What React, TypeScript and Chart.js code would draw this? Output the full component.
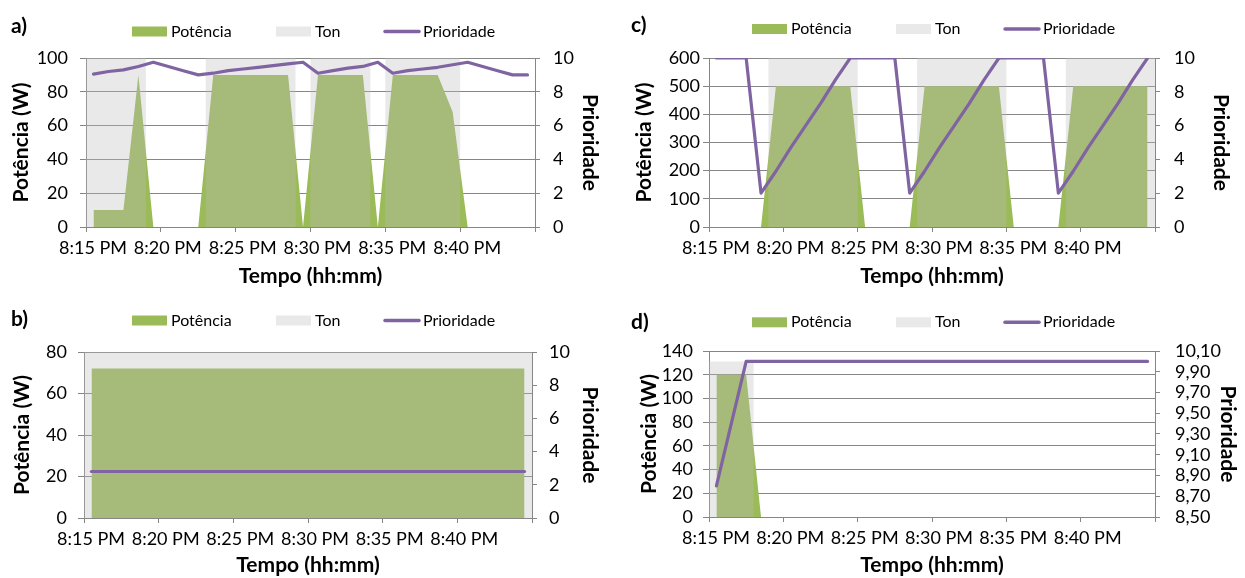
import React, { useEffect, useRef } from 'react';
import { Chart, registerables } from 'chart.js';

Chart.register(...registerables);

// ---------- data ----------
const timeTickLabels = ['8:15 PM', '8:20 PM', '8:25 PM', '8:30 PM', '8:35 PM', '8:40 PM'];
const timeTicks = [0, 5, 10, 15, 20, 25, 30]; // minutes after 8:15 PM
// sample instants (minutes after 8:15 PM), one per 1-minute interval
const sampleMinutes = [0.5, 1.5, 2.5, 3.5, 4.5, 5.5, 6.5, 7.5, 8.5, 9.5, 10.5, 11.5, 12.5, 13.5, 14.5, 15.5, 16.5, 17.5, 18.5, 19.5, 20.5, 21.5, 22.5, 23.5, 24.5, 25.5, 26.5, 27.5, 28.5, 29.5];
const intervalStarts = [0, 1, 2, 3, 4, 5, 6, 7, 8, 9, 10, 11, 12, 13, 14, 15, 16, 17, 18, 19, 20, 21, 22, 23, 24, 25, 26, 27, 28, 29];
const seriesEnd = 30;

const potenciaA = [10, 10, 10, 90, 0, 0, 0, 0, 90, 90, 90, 90, 90, 90, 0, 90, 90, 90, 90, 0, 90, 90, 90, 90, 68, 0, 0, 0, 0, 0];
const tonA = [10, 10, 10, 10, 0, 0, 0, 0, 10, 10, 10, 10, 10, 10, 0, 10, 10, 10, 10, 0, 10, 10, 10, 10, 10, 0, 0, 0, 0, 0];
const prioridadeA = [9.05, 9.2, 9.3, 9.5, 9.75, 9.5, 9.25, 9.0, 9.1, 9.25, 9.35, 9.45, 9.55, 9.65, 9.75, 9.1, 9.25, 9.4, 9.5, 9.75, 9.1, 9.25, 9.35, 9.45, 9.6, 9.75, 9.5, 9.25, 9.0, 9.0];

const potenciaB = [72, 72, 72, 72, 72, 72, 72, 72, 72, 72, 72, 72, 72, 72, 72, 72, 72, 72, 72, 72, 72, 72, 72, 72, 72, 72, 72, 72, 72, 72];
const tonB = [10, 10, 10, 10, 10, 10, 10, 10, 10, 10, 10, 10, 10, 10, 10, 10, 10, 10, 10, 10, 10, 10, 10, 10, 10, 10, 10, 10, 10, 10];
const prioridadeB = [2.8, 2.8, 2.8, 2.8, 2.8, 2.8, 2.8, 2.8, 2.8, 2.8, 2.8, 2.8, 2.8, 2.8, 2.8, 2.8, 2.8, 2.8, 2.8, 2.8, 2.8, 2.8, 2.8, 2.8, 2.8, 2.8, 2.8, 2.8, 2.8, 2.8];

const potenciaC = [0, 0, 0, 0, 500, 500, 500, 500, 500, 500, 0, 0, 0, 0, 500, 500, 500, 500, 500, 500, 0, 0, 0, 0, 500, 500, 500, 500, 500, 500];
const tonC = [0, 0, 0, 0, 10, 10, 10, 10, 10, 10, 0, 0, 0, 0, 10, 10, 10, 10, 10, 10, 0, 0, 0, 0, 10, 10, 10, 10, 10, 10];
const prioridadeC = [10, 10, 10, 2, 3.3, 4.7, 6, 7.3, 8.7, 10, 10, 10, 10, 2, 3.3, 4.7, 6, 7.3, 8.7, 10, 10, 10, 10, 2, 3.3, 4.7, 6, 7.3, 8.7, 10];

const potenciaD = [120, 120, 120, 0, 0, 0, 0, 0, 0, 0, 0, 0, 0, 0, 0, 0, 0, 0, 0, 0, 0, 0, 0, 0, 0, 0, 0, 0, 0, 0];
const tonD = [10, 10, 10, 0, 0, 0, 0, 0, 0, 0, 0, 0, 0, 0, 0, 0, 0, 0, 0, 0, 0, 0, 0, 0, 0, 0, 0, 0, 0, 0];
const prioridadeD = [8.8, 9.4, 10, 10, 10, 10, 10, 10, 10, 10, 10, 10, 10, 10, 10, 10, 10, 10, 10, 10, 10, 10, 10, 10, 10, 10, 10, 10, 10, 10];

const leftTicksA = [0, 20, 40, 60, 80, 100];
const leftTicksB = [0, 20, 40, 60, 80];
const leftTicksC = [0, 100, 200, 300, 400, 500, 600];
const leftTicksD = [0, 20, 40, 60, 80, 100, 120, 140];
const rightTicks = [0, 2, 4, 6, 8, 10];
const rightTicksD = [8.5, 8.7, 8.9, 9.1, 9.3, 9.5, 9.7, 9.9, 10.1];

const seriesNames = ['Potência', 'Ton', 'Prioridade'];
const xTitle = 'Tempo (hh:mm)';
const yTitle = 'Potência (W)';
const y1Title = 'Prioridade';

// ---------- styles ----------
const FONT = 'Lato';
const GREEN = '#9BBB59';
const TON = 'rgba(188,188,188,0.33)';
const PURPLE = '#8064A2';
const AXIS = '#868686';

type PanelCfg = {
  letter: string; left: number; top: number; width: number; height: number;
  area: { left: number; right: number; top: number; bottom: number };
  pot: number[]; ton: number[]; prio: number[];
  leftTicks: number[]; rightTicks: number[]; rightComma?: boolean;
  leftPad: number; rightPad: number; xPad: number;
  leftTitlePad: number; rightTitlePad: number; xTitlePad: number;
  letterY: number; legendY: number;
};

const panels: PanelCfg[] = [
  {
    letter: 'a)', left: 0, top: 0, width: 620, height: 289,
    area: { left: 86, right: 535, top: 58, bottom: 227 },
    pot: potenciaA, ton: tonA, prio: prioridadeA,
    leftTicks: leftTicksA, rightTicks: rightTicks,
    leftPad: 12, rightPad: 13, xPad: 5,
    leftTitlePad: 9, rightTitlePad: 18, xTitlePad: 2,
    letterY: 26, legendY: 31.5,
  },
  {
    letter: 'c)', left: 620, top: 0, width: 625, height: 289,
    area: { left: 89, right: 535, top: 58, bottom: 227 },
    pot: potenciaC, ton: tonC, prio: prioridadeC,
    leftTicks: leftTicksC, rightTicks: rightTicks,
    leftPad: 3, rightPad: 14, xPad: 5,
    leftTitlePad: 12, rightTitlePad: 12, xTitlePad: 0,
    letterY: 25, legendY: 29,
  },
  {
    letter: 'b)', left: 0, top: 289, width: 620, height: 289,
    area: { left: 84, right: 532, top: 63, bottom: 229 },
    pot: potenciaB, ton: tonB, prio: prioridadeB,
    leftTicks: leftTicksB, rightTicks: rightTicks,
    leftPad: 11, rightPad: 12, xPad: 5,
    leftTitlePad: 10, rightTitlePad: 18, xTitlePad: -4,
    letterY: 30, legendY: 31.5,
  },
  {
    letter: 'd)', left: 620, top: 289, width: 625, height: 289,
    area: { left: 89, right: 535, top: 62, bottom: 228 },
    pot: potenciaD, ton: tonD, prio: prioridadeD,
    leftTicks: leftTicksD, rightTicks: rightTicksD, rightComma: true,
    leftPad: 10, rightPad: 15, xPad: 5,
    leftTitlePad: 17, rightTitlePad: 5, xTitlePad: -1,
    letterY: 33.5, legendY: 33.3,
  },
];

const legendX = [132, 276, 384];

function decorPlugin(cfg: PanelCfg) {
  return {
    id: 'decor',
    afterDraw(chart: any) {
      const ctx = chart.ctx as CanvasRenderingContext2D;
      ctx.save();
      ctx.textBaseline = 'middle';
      ctx.textAlign = 'left';
      ctx.fillStyle = '#000';
      ctx.font = `bold 21px ${FONT}`;
      ctx.fillText(cfg.letter, 11, cfg.letterY);
      ctx.font = `16px ${FONT}`;
      chart.data.datasets.forEach((ds: any, i: number) => {
        const x = legendX[i];
        const y = cfg.legendY;
        if (ds.fill === false) {
          ctx.strokeStyle = ds.borderColor;
          ctx.lineWidth = 3.5;
          ctx.lineCap = 'round';
          ctx.beginPath();
          ctx.moveTo(x + 1, y);
          ctx.lineTo(x + 35, y);
          ctx.stroke();
        } else {
          ctx.fillStyle = ds.backgroundColor;
          ctx.fillRect(x, y - 5, 35, 10);
        }
        ctx.fillStyle = '#000';
        ctx.fillText(ds.label, x + 39, y);
      });
      ctx.restore();
    },
  };
}

function buildConfig(cfg: PanelCfg): any {
  const a = cfg.area;
  const potData = cfg.pot.map((v, i) => ({ x: sampleMinutes[i], y: v }));
  const tonData = cfg.ton.map((v, i) => ({ x: intervalStarts[i], y: v }));
  tonData.push({ x: seriesEnd, y: cfg.ton[cfg.ton.length - 1] });
  const prioData = cfg.prio.map((v, i) => ({ x: sampleMinutes[i], y: v }));

  const tickFont = { family: FONT, size: 18 };
  const titleFont = { family: FONT, size: 21, weight: 'bold' as const };

  return {
    type: 'line',
    data: {
      datasets: [
        {
          label: seriesNames[0], data: potData, yAxisID: 'y', order: 2,
          fill: 'origin', backgroundColor: GREEN, borderColor: 'rgba(0,0,0,0)', borderWidth: 0,
          pointRadius: 0, tension: 0,
        },
        {
          label: seriesNames[1], data: tonData, yAxisID: 'y1', order: 1,
          fill: 'start', stepped: 'before', backgroundColor: TON, borderColor: 'rgba(0,0,0,0)', borderWidth: 0,
          pointRadius: 0,
        },
        {
          label: seriesNames[2], data: prioData, yAxisID: 'y1', order: 0,
          fill: false, borderColor: PURPLE, backgroundColor: PURPLE, borderWidth: 3.2,
          borderJoinStyle: 'round', borderCapStyle: 'round', pointRadius: 0, tension: 0,
        },
      ],
    },
    options: {
      responsive: false,
      animation: false,
      events: [],
      layout: { padding: { top: a.top, left: 0, right: 0, bottom: 0 } },
      plugins: { legend: { display: false }, tooltip: { enabled: false }, title: { display: false } },
      scales: {
        x: {
          type: 'linear', min: 0, max: 30, position: 'bottom',
          afterBuildTicks: (s: any) => { s.ticks = timeTicks.map((v) => ({ value: v })); },
          afterFit: (s: any) => { s.height = cfg.height - a.bottom; },
          ticks: {
            autoSkip: false, maxRotation: 0, minRotation: 0, color: '#000', font: tickFont, padding: cfg.xPad,
            labelOffset: 7,
            callback: (v: number) => { const i = timeTicks.indexOf(v); return i >= 0 && i < timeTickLabels.length ? timeTickLabels[i] : ''; },
          },
          grid: { drawOnChartArea: false, drawTicks: true, tickLength: 5, color: AXIS, lineWidth: 1 },
          border: { display: true, color: AXIS, width: 1 },
          title: { display: true, text: xTitle, color: '#000', font: titleFont, padding: { top: cfg.xTitlePad, bottom: 0 } },
        },
        y: {
          type: 'linear', position: 'left',
          min: cfg.leftTicks[0], max: cfg.leftTicks[cfg.leftTicks.length - 1],
          afterBuildTicks: (s: any) => { s.ticks = cfg.leftTicks.map((v) => ({ value: v })); },
          afterFit: (s: any) => { s.width = a.left; },
          ticks: { autoSkip: false, color: '#000', font: tickFont, padding: cfg.leftPad },
          grid: { drawOnChartArea: true, drawTicks: true, tickLength: 6, color: AXIS, lineWidth: 1 },
          border: { display: true, color: AXIS, width: 1 },
          title: { display: true, text: yTitle, color: '#000', font: titleFont, padding: { top: cfg.leftTitlePad, bottom: 0 } },
        },
        y1: {
          type: 'linear', position: 'right',
          min: cfg.rightTicks[0], max: cfg.rightTicks[cfg.rightTicks.length - 1],
          afterBuildTicks: (s: any) => { s.ticks = cfg.rightTicks.map((v) => ({ value: v })); },
          afterFit: (s: any) => { s.width = cfg.width - a.right; },
          ticks: {
            autoSkip: false, color: '#000', font: tickFont, padding: cfg.rightPad,
            callback: (v: number) => (cfg.rightComma ? v.toFixed(2).replace('.', ',') : String(v)),
          },
          grid: { drawOnChartArea: false, drawTicks: true, tickLength: 5, color: AXIS, lineWidth: 1 },
          border: { display: true, color: AXIS, width: 1 },
          title: { display: true, text: y1Title, color: '#000', font: titleFont, padding: { top: cfg.rightTitlePad, bottom: 0 } },
        },
      },
    },
    plugins: [decorPlugin(cfg)],
  };
}

function Panel({ cfg }: { cfg: PanelCfg }) {
  const ref = useRef<HTMLCanvasElement>(null);
  useEffect(() => {
    if (!ref.current) return;
    const chart = new Chart(ref.current, buildConfig(cfg));
    return () => chart.destroy();
  }, [cfg]);
  return (
    <div style={{ position: 'absolute', left: cfg.left, top: cfg.top, width: cfg.width, height: cfg.height }}>
      <canvas ref={ref} width={cfg.width} height={cfg.height} style={{ display: 'block' }} />
    </div>
  );
}

export default function App() {
  return (
    <div style={{ position: 'absolute', left: 0, top: 0, width: 1245, height: 578, background: '#fff', overflow: 'hidden' }}>
      {panels.map((p) => (
        <Panel key={p.letter} cfg={p} />
      ))}
    </div>
  );
}
